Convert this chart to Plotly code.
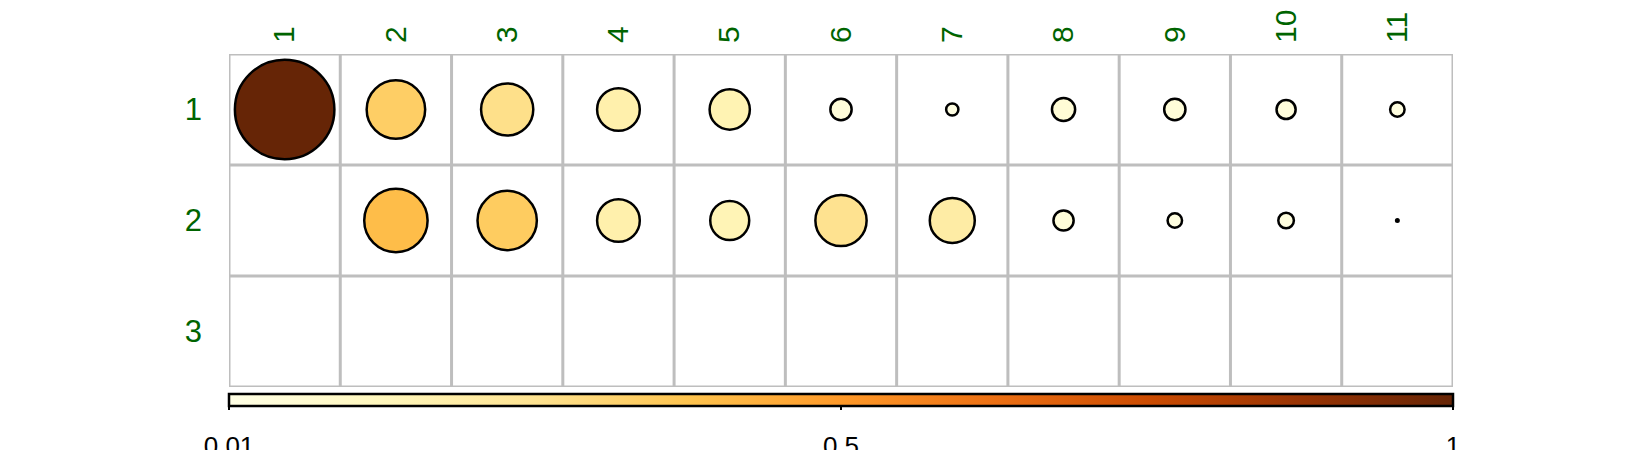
import math
import plotly.graph_objects as go

# ---- data ----
col_labels = ["1", "2", "3", "4", "5", "6", "7", "8", "9", "10", "11"]
row_labels = ["1", "2", "3"]
row1_values = [1.00, 0.34, 0.27, 0.18, 0.16, 0.047, 0.020, 0.055, 0.047, 0.039, 0.025]
row2_values = [None, 0.40, 0.35, 0.18, 0.15, 0.26, 0.20, 0.043, 0.025, 0.028, 0.01]
row3_values = [None] * 11
color_limits = [0.01, 1.0]
colorbar_ticks = [0.01, 0.505, 1.0]
colorbar_ticktext = ["0.01", "0.5", "1"]

ylorbr = ["rgb(255,255,229)", "rgb(255,247,188)", "rgb(254,227,145)",
          "rgb(254,196,79)", "rgb(254,153,41)", "rgb(236,112,20)",
          "rgb(204,76,2)", "rgb(153,52,4)", "rgb(102,37,6)"]

rows = [row1_values, row2_values, row3_values]
xs, ys, vs = [], [], []
for r, vals in enumerate(rows):
    for c, v in enumerate(vals):
        if v is not None:
            xs.append(c + 1)
            ys.append(r + 1)
            vs.append(v)

vmin, vmax = color_limits
sizes = [math.sqrt(max(v - vmin, 0) / (vmax - vmin)) * 97 + 2.5 for v in vs]

ncol, nrow = len(col_labels), len(row_labels)
W, H = 1650, 450
mt, mb, ml, mr = 46, 0, 221, 205
plot_h = H - mt - mb
grid_bottom_px = 379
y_dom0 = (H - grid_bottom_px) / plot_h
cb_top_px = 385.5
cb_bottom_px = 397.5

fig = go.Figure()
fig.add_trace(go.Scatter(
    x=xs, y=ys, mode="markers", hoverinfo="text",
    text=[f"{v}" for v in vs],
    marker=dict(
        size=sizes, color=vs, colorscale=[[i / 8, c] for i, c in enumerate(ylorbr)],
        cmin=vmin, cmax=vmax, opacity=1,
        line=dict(color="black", width=2.5),
        showscale=True,
        colorbar=dict(
            orientation="h", x=0, xanchor="left", len=1, lenmode="fraction",
            y=(H - cb_top_px) / plot_h, yanchor="top",
            thickness=cb_bottom_px - cb_top_px, outlinewidth=2.5, outlinecolor="black",
            xpad=0, ypad=0, tickvals=colorbar_ticks, showticklabels=False,
            ticks="", borderwidth=0,
        ),
    ),
    showlegend=False,
))
# helper trace for the colour-bar tick axis
fig.add_trace(go.Scatter(x=[], y=[], xaxis="x2", yaxis="y", showlegend=False, hoverinfo="skip"))

# grid lines
for i in range(ncol + 1):
    fig.add_shape(type="line", xref="x", yref="y", x0=i + 0.5, x1=i + 0.5,
                  y0=0.5, y1=nrow + 0.5, line=dict(color="#BEBEBE", width=3), layer="below")
for j in range(nrow + 1):
    fig.add_shape(type="line", xref="x", yref="y", x0=0.5, x1=ncol + 0.5,
                  y0=j + 0.5, y1=j + 0.5, line=dict(color="#BEBEBE", width=3), layer="below")

fig.update_layout(
    width=W, height=H,
    margin=dict(l=ml, r=mr, t=mt, b=mb, pad=0, autoexpand=False),
    plot_bgcolor="rgba(0,0,0,0)", paper_bgcolor="white",
    font=dict(family="Liberation Sans, Arial, sans-serif"),
    xaxis=dict(range=[0.5, ncol + 0.5], domain=[0, 1], side="top",
               tickvals=list(range(1, ncol + 1)), ticktext=col_labels,
               tickangle=-90, showgrid=False, zeroline=False, showline=False,
               ticks="", tickfont=dict(color="#006400", size=30),
               ticklabelstandoff=10, fixedrange=True),
    yaxis=dict(range=[nrow + 0.5, 0.5], domain=[y_dom0, 1],
               tickvals=list(range(1, nrow + 1)), ticktext=row_labels,
               showgrid=False, zeroline=False, showline=False, ticks="",
               tickfont=dict(color="#006400", size=31),
               ticklabelstandoff=26, fixedrange=True),
    xaxis2=dict(range=[vmin, vmax], domain=[0, 1], anchor="free", overlaying="x",
                position=(H - cb_bottom_px) / plot_h, side="bottom",
                tickvals=colorbar_ticks, ticktext=colorbar_ticktext,
                ticks="outside", ticklen=3, tickwidth=2, tickcolor="black",
                showgrid=False, zeroline=False, showline=False,
                tickfont=dict(color="black", size=26),
                ticklabelstandoff=14, fixedrange=True),
)

fig.write_html("out.html")
